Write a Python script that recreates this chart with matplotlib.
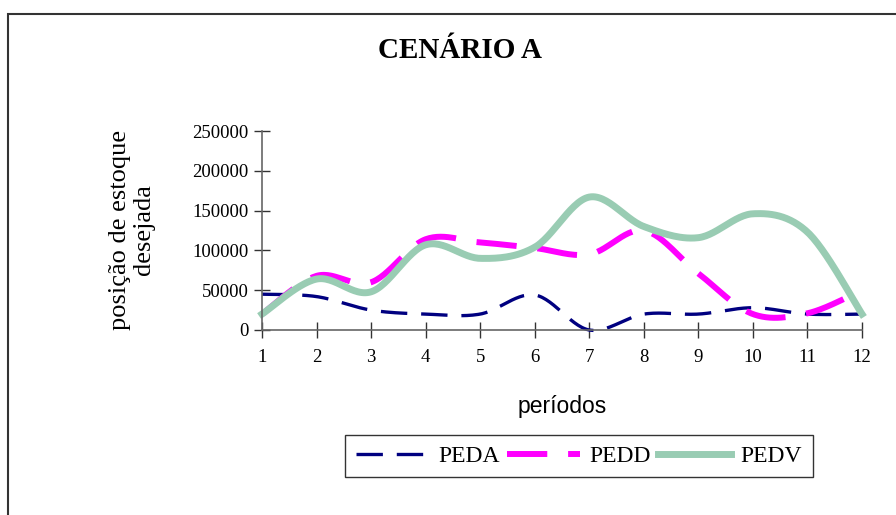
import numpy as np
import matplotlib
matplotlib.use("Agg")
import matplotlib.pyplot as plt
from matplotlib.patches import Rectangle

plt.rcParams['lines.scale_dashes'] = False

# Dados
periodos = [1, 2, 3, 4, 5, 6, 7, 8, 9, 10, 11, 12]
peda = [45000, 42000, 25000, 20000, 20000, 44000, 0, 20000, 20000, 28000, 20000, 20000]
pedd = [20000, 68000, 60000, 114000, 110000, 103000, 95000, 125000, 71000, 20000, 21000, 50000]
pedv = [20000, 64000, 48000, 107000, 90000, 104000, 167000, 130000, 116000, 146000, 123000, 20000]
yticks = [0, 50000, 100000, 150000, 200000, 250000]


def suavizar(x, y, n=30):
    # curva suavizada estilo Excel (Bezier / Catmull-Rom)
    x = np.asarray(x, float)
    y = np.asarray(y, float)
    px = np.concatenate([[x[0]], x, [x[-1]]])
    py = np.concatenate([[y[0]], y, [y[-1]]])
    t = np.linspace(0, 1, n)
    xs, ys = [], []
    for i in range(1, len(px) - 2):
        p0 = np.array([px[i], py[i]])
        p3 = np.array([px[i + 1], py[i + 1]])
        b1 = p0 + (p3 - np.array([px[i - 1], py[i - 1]])) / 6
        b2 = p3 - (np.array([px[i + 2], py[i + 2]]) - p0) / 6
        pts = (np.outer((1 - t) ** 3, p0) + np.outer(3 * (1 - t) ** 2 * t, b1)
               + np.outer(3 * (1 - t) * t ** 2, b2) + np.outer(t ** 3, p3))
        xs.extend(pts[:, 0])
        ys.extend(pts[:, 1])
    return xs, ys


fig = plt.figure(figsize=(8.96, 5.15), dpi=100)
ax = fig.add_axes([262 / 896, 1 - 330 / 515, 600 / 896, 199 / 515])

serif = 'Liberation Serif'

x, y = suavizar(periodos, peda)
ax.plot(x, y, color='#000080', lw=2.4, linestyle=(0, (19, 10)), label='PEDA',
        dash_capstyle='butt')
x, y = suavizar(periodos, pedd)
ax.plot(x, y, color='#FF00FF', lw=4.3, linestyle=(0, (29, 15)), label='PEDD',
        dash_capstyle='butt')
x, y = suavizar(periodos, pedv)
ax.plot(x, y, color='#99CCB3', lw=5, label='PEDV')

ax.set_xlim(1, 12)
ax.set_ylim(0, 250000)
ax.set_xticks(periodos)
ax.set_yticks(yticks)
ax.set_xticklabels([str(p) for p in periodos], fontfamily=serif, fontsize=13.5)
ax.set_yticklabels([str(v) for v in yticks], fontfamily=serif, fontsize=13.5)
ax.tick_params(direction='inout', length=11, width=1, color='#333333', pad=4)
ax.tick_params(axis='x', pad=8)
for s in ['top', 'right']:
    ax.spines[s].set_visible(False)
for s in ['left', 'bottom']:
    ax.spines[s].set_color('#666666')
    ax.spines[s].set_linewidth(1.2)
for ln in ax.lines:
    ln.set_clip_on(False)

fig.text(460 / 896, 1 - 50 / 515, 'CENÁRIO A', ha='center', va='center',
         fontfamily=serif, fontweight='bold', fontsize=21)
fig.text(132 / 896, 1 - 230 / 515, 'posição de estoque\ndesejada', ha='center',
         va='center', rotation=90, fontfamily=serif, fontsize=19, linespacing=1.1)
fig.text(562 / 896, 1 - 407 / 515, 'períodos', ha='center', va='center',
         fontfamily='Liberation Sans', fontsize=16.5)

leg = fig.legend(loc='center', bbox_to_anchor=(579 / 896, 1 - 456 / 515), ncol=3,
                 frameon=True, fancybox=False, edgecolor='black',
                 prop={'family': serif, 'size': 17}, handlelength=3.1,
                 handletextpad=0.4, columnspacing=0.3, borderpad=0.45)
leg.get_frame().set_linewidth(1.0)

fig.patches.append(Rectangle((8 / 896, -0.05), 1.1, 1 - 14 / 515 + 0.05,
                             transform=fig.transFigure, fill=False,
                             edgecolor='#333333', lw=1.5))

fig.savefig('out.png', dpi=100)
